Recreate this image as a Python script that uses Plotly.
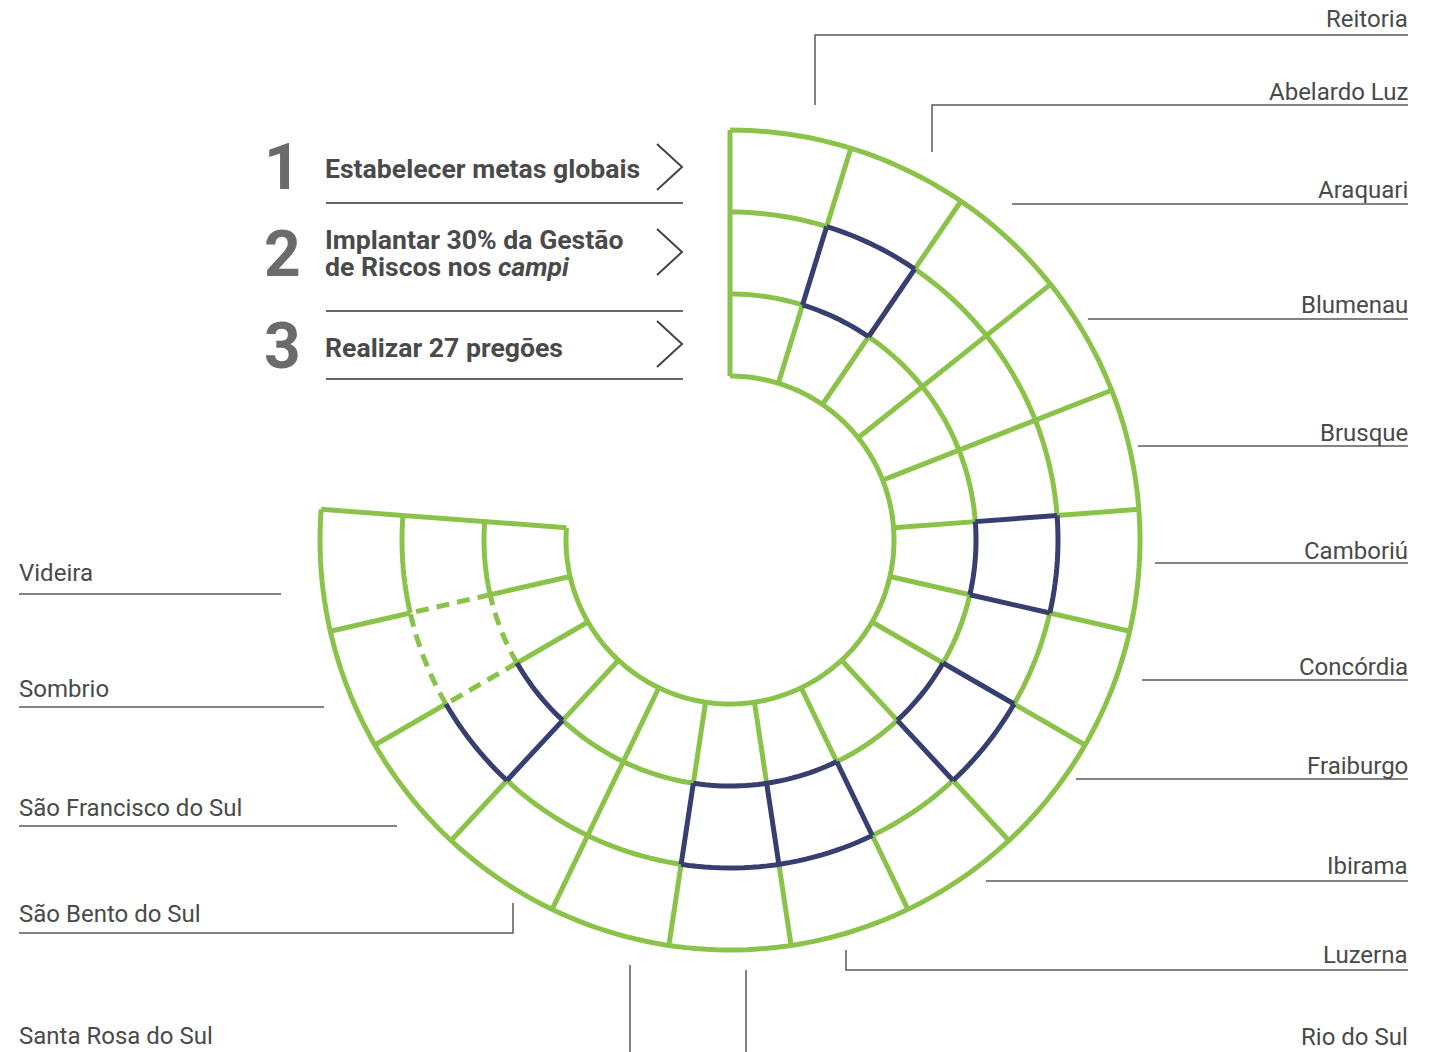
import numpy as np
import plotly.graph_objects as go

# ---------------- data ----------------
campi = ["Reitoria", "Abelardo Luz", "Araquari", "Blumenau", "Brusque", "Camboriú",
         "Concórdia", "Fraiburgo", "Ibirama", "Luzerna", "Rio do Sul",
         "Santa Rosa do Sul", "São Bento do Sul", "São Francisco do Sul", "Sombrio", "Videira"]
meta_numeros = ["1", "2", "3"]
meta_linha1 = ["Estabelecer metas globais", "Implantar 30% da Gestão", "Realizar 27 pregões"]
meta_linha2 = ["", "de Riscos nos <i>campi</i>", ""]
slots_no_circulo = 21            # the ring is divided in 21 slots, 16 used
destaque_meta2 = ["Abelardo Luz", "Camboriú", "Fraiburgo", "Luzerna", "Rio do Sul", "São Francisco do Sul"]
tracejado_meta2 = ["Sombrio"]

# ---------------- styling / layout ----------------
W, H = 1436, 1052
CX, CY, RPX = 730, 540, 410      # centre and outer radius in pixels
R_OUT, R_HOLE = 5, 2
R_AXIS = 5.2                     # axis range a bit larger so the outer stroke is not clipped
RPX_AXIS = RPX * R_AXIS / R_OUT
GREEN = "#8BC34A"
NAVY = "#373E70"
TXT = "#4a4a4a"
LINE = "#5a5a5a"

n_seg = len(campi)
n_ring = len(meta_numeros)
step = 360.0 / slots_no_circulo

status = {}
for s, c in enumerate(campi):
    for k in range(n_ring):
        status[(s, k)] = "green"
for c in destaque_meta2:
    status[(campi.index(c), 1)] = "dark"
for c in tracejado_meta2:
    status[(campi.index(c), 1)] = "dash"


def edge_style(cells):
    st = [status[c] for c in cells]
    if "dash" in st:
        return "dash"
    if "dark" in st:
        return "dark"
    return "green"


paths = {"green": ([], []), "dash": ([], []), "dark": ([], [])}


def add(style, r, th):
    rr, tt = paths[style]
    rr.extend(list(r) + [None])
    tt.extend(list(th) + [None])


def ring_r(k):  # ring k: 0 outer (meta 1) ... 2 inner (meta 3)
    return R_OUT - k - 1, R_OUT - k


# arcs
for L in range(n_ring + 1):
    r = R_OUT - L
    styles = []
    for s in range(n_seg):
        cells = []
        if L >= 1:
            cells.append((s, L - 1))
        if L <= n_ring - 1:
            cells.append((s, L))
        styles.append(edge_style(cells))
    s0 = 0
    for s in range(1, n_seg + 1):
        if s == n_seg or styles[s] != styles[s0]:
            th = np.linspace(s0 * step, s * step, 12 * (s - s0) + 2)
            add(styles[s0], [r] * len(th), th)
            s0 = s

# radials
for b in range(n_seg + 1):
    styles = []
    ks = list(range(n_ring - 1, -1, -1))  # inner to outer
    for k in ks:
        cells = []
        if b >= 1:
            cells.append((b - 1, k))
        if b <= n_seg - 1:
            cells.append((b, k))
        styles.append(edge_style(cells))
    i0 = 0
    for i in range(1, len(ks) + 1):
        if i == len(ks) or styles[i] != styles[i0]:
            r_a = ring_r(ks[i0])[0]
            r_b = ring_r(ks[i - 1])[1]
            add(styles[i0], [r_a, r_b], [b * step, b * step])
            i0 = i

fig = go.Figure()
line_defs = {"green": dict(color=GREEN, width=5),
             "dash": dict(color=GREEN, width=5, dash="13px,8px"),
             "dark": dict(color=NAVY, width=5)}
for st in ["green", "dash", "dark"]:
    rr, tt = paths[st]
    fig.add_trace(go.Scatterpolar(r=rr, theta=tt, mode="lines", line=line_defs[st],
                                  hoverinfo="skip", showlegend=False, cliponaxis=False))


def px(x):
    return x / W


def py(y):
    return 1 - y / H


# label positions (pixels): text y, anchor side, leader polyline
label_layout = {
    "Reitoria": (19, "r", [(815, 105), (815, 35), (1408, 35)]),
    "Abelardo Luz": (92, "r", [(932, 152), (932, 105), (1408, 105)]),
    "Araquari": (190, "r", [(1012, 204), (1408, 204)]),
    "Blumenau": (305, "r", [(1088, 319), (1408, 319)]),
    "Brusque": (433, "r", [(1138, 446), (1408, 446)]),
    "Camboriú": (551, "r", [(1155, 563), (1408, 563)]),
    "Concórdia": (667, "r", [(1142, 680), (1408, 680)]),
    "Fraiburgo": (766, "r", [(1076, 779), (1408, 779)]),
    "Ibirama": (866, "r", [(986, 881), (1408, 881)]),
    "Luzerna": (955, "r", [(846, 950), (846, 970), (1408, 970)]),
    "Rio do Sul": (1037, "r", [(746, 970), (746, 1060), (1408, 1060)]),
    "Santa Rosa do Sul": (1036, "l", [(630, 965), (630, 1060), (19, 1060)]),
    "São Bento do Sul": (914, "l", [(513, 903), (513, 933), (19, 933)]),
    "São Francisco do Sul": (808, "l", [(397, 826), (19, 826)]),
    "Sombrio": (689, "l", [(324, 707), (19, 707)]),
    "Videira": (573, "l", [(281, 594), (19, 594)]),
}

shapes = []
annotations = []
for name in campi:
    ty, side, pts = label_layout[name]
    d = "M " + " L ".join(f"{px(x):.5f},{py(y):.5f}" for x, y in pts)
    shapes.append(dict(type="path", xref="paper", yref="paper", path=d,
                       line=dict(color=LINE, width=1.5)))
    annotations.append(dict(text=name, xref="paper", yref="paper",
                            x=px(1410 if side == "r" else 17), y=py(ty),
                            xanchor="right" if side == "r" else "left", yanchor="middle",
                            showarrow=False, font=dict(family="Roboto", size=24, color=TXT)))

# left panel of goals
num_y = [167, 254, 346]
txt1_y = [169, 240, 347]
txt2_y = [None, 267, None]
sep_y = [203, 311, 379]
chev_y = [167, 252, 344]
for i in range(len(meta_numeros)):
    annotations.append(dict(text=f"<b>{meta_numeros[i]}</b>", xref="paper", yref="paper",
                            x=px(282), y=py(num_y[i]), xanchor="center", yanchor="middle",
                            showarrow=False, font=dict(family="Roboto", size=64, color="#6b6b6b")))
    annotations.append(dict(text=f"<b>{meta_linha1[i]}</b>", xref="paper", yref="paper",
                            x=px(323), y=py(txt1_y[i]), xanchor="left", yanchor="middle",
                            showarrow=False, font=dict(family="Roboto", size=26.6, color=TXT)))
    if meta_linha2[i]:
        annotations.append(dict(text=f"<b>{meta_linha2[i]}</b>", xref="paper", yref="paper",
                                x=px(323), y=py(txt2_y[i]), xanchor="left", yanchor="middle",
                                showarrow=False, font=dict(family="Roboto", size=26.6, color=TXT)))
    shapes.append(dict(type="line", xref="paper", yref="paper",
                       x0=px(326), x1=px(683), y0=py(sep_y[i]), y1=py(sep_y[i]),
                       line=dict(color="#666666", width=2)))
    cy = chev_y[i]
    d = f"M {px(657):.5f},{py(cy - 23):.5f} L {px(682):.5f},{py(cy):.5f} L {px(657):.5f},{py(cy + 23):.5f}"
    shapes.append(dict(type="path", xref="paper", yref="paper", path=d,
                       line=dict(color="#444444", width=2)))

fig.update_layout(
    width=W, height=H, margin=dict(l=0, r=0, t=0, b=0),
    paper_bgcolor="white", plot_bgcolor="white",
    polar=dict(
        domain=dict(x=[(CX - RPX_AXIS) / W, (CX + RPX_AXIS) / W],
                    y=[1 - (CY + RPX_AXIS) / H, 1 - (CY - RPX_AXIS) / H]),
        bgcolor="rgba(0,0,0,0)",
        radialaxis=dict(range=[0, R_AXIS], visible=False, showgrid=False),
        angularaxis=dict(rotation=90, direction="clockwise", visible=False, showgrid=False),
    ),
    shapes=shapes, annotations=annotations, showlegend=False,
)

fig.write_html("out.html", config={"displayModeBar": False},
               post_script="document.body.style.margin='0';")
